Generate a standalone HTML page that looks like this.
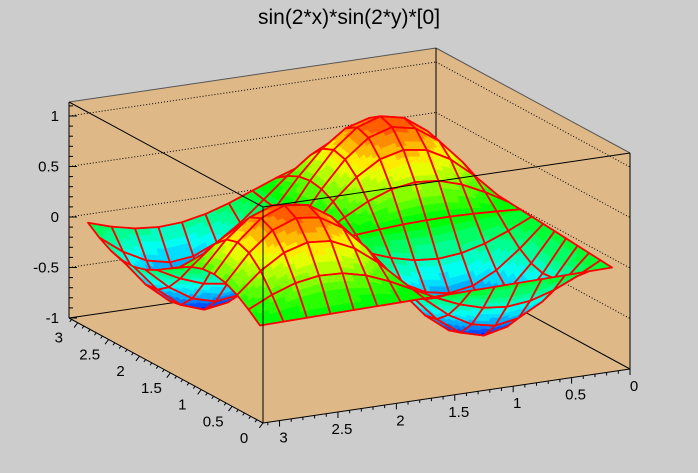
<!DOCTYPE html>
<html><head><meta charset="utf-8"><style>
html,body{margin:0;padding:0;background:#cccccc;}
svg{display:block;font-family:"Liberation Sans",sans-serif;}
</style></head><body>
<svg id="chart" width="698" height="473" viewBox="0 0 698 473" xmlns="http://www.w3.org/2000/svg">
<rect x="0" y="0" width="698" height="473" fill="#cccccc"/>
<text x="349" y="24" font-size="21" text-anchor="middle" fill="#000">sin(2*x)*sin(2*y)*[0]</text>
<g id="box"></g><g id="surf"></g><g id="front"></g><g id="axes"></g>
</svg>
<script>
// ---- data ----
const sProfile = [0,0.389,0.717,0.932,1.0,0.909,0.675,0.335,-0.058,-0.443,-0.757,-0.952,-0.996,-0.883,-0.631,-0.279];
const tProfile = [0,0.389,0.717,0.932,1.0,0.909,0.675,0.335,-0.058,-0.443,-0.757,-0.952,-0.996,-0.883,-0.631,-0.279];
const amplitude = -0.79;
const zTickLabels = ["-1","-0.5","0","0.5","1"];
const zTickValues = [-1,-0.5,0,0.5,1];
const xTickLabels = ["0","0.5","1","1.5","2","2.5","3"];
const xTickValues = [0,0.5,1,1.5,2,2.5,3];
const yTickLabels = ["0","0.5","1","1.5","2","2.5","3"];
const yTickValues = [0,0.5,1,1.5,2,2.5,3];

const NS="http://www.w3.org/2000/svg";
function mk(tag, attrs, parent){const e=document.createElementNS(NS,tag);for(const k in attrs)e.setAttribute(k,attrs[k]);parent.appendChild(e);return e;}
const gBox=document.getElementById('box'),gSurf=document.getElementById('surf'),gFront=document.getElementById('front'),gAxes=document.getElementById('axes');

const A=[69,318],B=[263,423],C=[630,369],D=[A[0]+C[0]-B[0],A[1]+C[1]-B[1]];
const H=216, PZ=101;
const topOf=p=>[p[0],p[1]-H];
const zy=(p,z)=>[p[0],p[1]-(z+1)*PZ];
const pts=a=>a.map(p=>p[0]+','+p[1]).join(' ');
function line(p,q,attrs,parent,name){const e=mk('line',Object.assign({x1:p[0],y1:p[1],x2:q[0],y2:q[1],stroke:'#000','stroke-width':1},attrs),parent);

return e;}

let w=mk('polygon',{points:pts([A,D,topOf(D),topOf(A)]),fill:'#deb887'},gBox);


w=mk('polygon',{points:pts([D,C,topOf(C),topOf(D)]),fill:'#deb887'},gBox);


w=mk('polygon',{points:pts([A,B,C,D]),fill:'#deb887'},gBox);


zTickValues.forEach(z=>{ if(z<=-1)return;
  line(zy(A,z),zy(D,z),{'stroke-dasharray':'1,2'},gBox,'z-gridline-left');
  line(zy(D,z),zy(C,z),{'stroke-dasharray':'1,2'},gBox,'z-gridline-right');
});
line(topOf(A),topOf(D),{stroke:'#555'},gBox,'box-back-top-left');
line(topOf(D),topOf(C),{stroke:'#555'},gBox,'box-back-top-right');
line(D,topOf(D),{},gBox,'box-back-vertical');
line(A,D,{},gBox,'box-floor-back-left');
line(D,C,{},gBox,'box-floor-back-right');

// surface
const N=sProfile.length-1;
const O=[612,267.5],E=[-352,58],F=[-172,-109],ZA=101;
function zval(i,j){return amplitude*sProfile[i]*tProfile[j];}
function proj(s,t,z){return [O[0]+s*E[0]+t*F[0], O[1]+s*E[1]+t*F[1]-z*ZA];}
const zmin=-Math.abs(amplitude),zmax=Math.abs(amplitude);
function color(z){let k=Math.floor((z-zmin)/(zmax-zmin)*20);k=Math.max(0,Math.min(19,k));const h=232-k/19*210;return 'hsl('+h+',100%,50%)';}
const cells=[];
for(let i=0;i<N;i++)for(let j=0;j<N;j++){cells.push([i,j,E[1]*(i+0.5)/N+F[1]*(j+0.5)/N]);}
cells.sort((a,b)=>a[2]-b[2]);
const SUB=5;
cells.forEach(([i,j])=>{
  const g=mk('g',{},gSurf);
  
  
  const z00=zval(i,j),z10=zval(i+1,j),z01=zval(i,j+1),z11=zval(i+1,j+1);
  const zi=(a,b)=>z00*(1-a)*(1-b)+z10*a*(1-b)+z01*(1-a)*b+z11*a*b;
  const P=(a,b)=>proj((i+a)/N,(j+b)/N,zi(a,b));
  for(let a=0;a<SUB;a++)for(let b=0;b<SUB;b++){
    const a0=a/SUB,a1=(a+1)/SUB,b0=b/SUB,b1=(b+1)/SUB;
    const zc=zi((a0+a1)/2,(b0+b1)/2);const c=color(zc);
    const p=mk('polygon',{points:pts([P(a0,b0),P(a1,b0),P(a1,b1),P(a0,b1)]),fill:c,stroke:c,'stroke-width':0.6},g);
    
    
  }
  const o=mk('polygon',{points:pts([P(0,0),P(1,0),P(1,1),P(0,1)]),fill:'none',stroke:'#ff0000','stroke-width':1.8,'stroke-linejoin':'round'},g);
  
  
});

line(A,topOf(A),{},gFront,'box-left-vertical');
line(B,topOf(B),{},gFront,'box-front-vertical');
line(C,topOf(C),{},gFront,'box-right-vertical');
line(topOf(A),topOf(B),{},gFront,'box-top-left-edge');
line(topOf(B),topOf(C),{},gFront,'box-top-right-edge');
line(A,B,{},gFront,'box-floor-left-edge');
line(B,C,{},gFront,'box-floor-front-edge');

const PI=Math.PI;
function txt(x,y,s,name,anchor){const e=mk('text',{x:x,y:y,'font-size':15,'text-anchor':anchor||'middle',fill:'#000'},gAxes);e.textContent=s;

}
for(let k=0;k<=31;k++){const v=k/10;const p=[C[0]+v/PI*(B[0]-C[0]),C[1]+v/PI*(B[1]-C[1])];const L=(k%5==0)?6:3;
  line(p,[p[0],p[1]+L],{},gAxes,'x-axis-tick');}
xTickValues.forEach((v,k)=>{const p=[C[0]+v/PI*(B[0]-C[0]),C[1]+v/PI*(B[1]-C[1])];txt(p[0]+4,p[1]+22,xTickLabels[k],'x-tick-label');});
for(let k=0;k<=31;k++){const v=k/10;const p=[B[0]+v/PI*(A[0]-B[0]),B[1]+v/PI*(A[1]-B[1])];const L=(k%5==0)?6:3;
  line(p,[p[0]-L*0.6,p[1]+L*0.8],{},gAxes,'y-axis-tick');}
yTickValues.forEach((v,k)=>{const p=[B[0]+v/PI*(A[0]-B[0]),B[1]+v/PI*(A[1]-B[1])];txt(p[0]-19,p[1]+20,yTickLabels[k],'y-tick-label');});
for(let k=-10;k<=11;k++){const z=k/10;const p=zy(A,z);const L=(k%5==0)?8:4;
  line(p,[p[0]+L,p[1]],{},gAxes,'z-axis-tick');}
zTickValues.forEach((z,k)=>{const p=zy(A,z);txt(p[0]-10,p[1]+5,zTickLabels[k],'z-tick-label','end');});
</script>
</body></html>
